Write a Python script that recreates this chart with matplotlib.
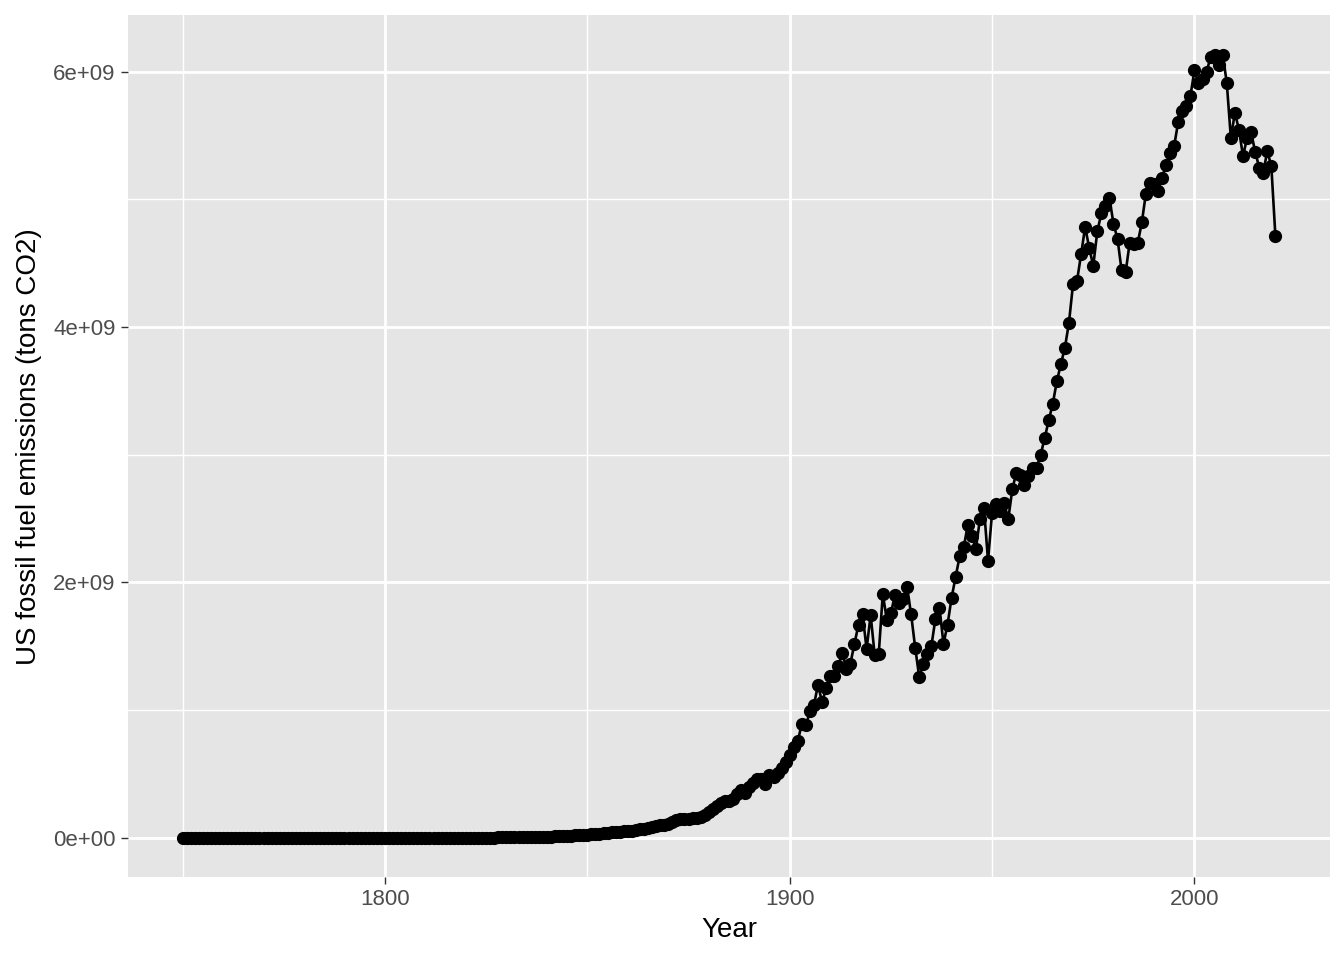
import matplotlib
matplotlib.use("Agg")
import matplotlib.pyplot as plt
import numpy as np

plt.rcParams['font.family'] = ['Liberation Sans', 'DejaVu Sans']

# US fossil CO2 emissions, million tonnes, one list per decade
years = np.arange(1750, 2021)
mt_1750s = [0, 0, 0, 0, 0, 0, 0, 0, 0, 0]
mt_1760s = [0, 0, 0, 0, 0, 0, 0, 0, 0, 0]
mt_1770s = [0, 0, 0, 0, 0, 0, 0, 0, 0, 0]
mt_1780s = [0, 0, 0, 0, 0, 0, 0, 0, 0, 0]
mt_1790s = [0, 0, 0, 0, 0, 0, 0, 0, 0, 0]
mt_1800s = [0.25, 0.27, 0.29, 0.31, 0.33, 0.35, 0.38, 0.4, 0.43, 0.46]
mt_1810s = [0.5, 0.55, 0.6, 0.65, 0.7, 0.75, 0.8, 0.85, 0.9, 0.95]
mt_1820s = [1.0, 1.1, 1.2, 1.4, 1.6, 1.8, 2.0, 2.3, 2.6, 2.9]
mt_1830s = [3.2, 3.6, 4.0, 4.5, 5.0, 5.5, 6.0, 6.8, 7.5, 8.3]
mt_1840s = [9, 10, 11, 12.5, 14, 15.5, 17, 19, 21, 23]
mt_1850s = [25, 27, 30, 33, 36, 39, 42, 45, 48, 51]
mt_1860s = [55, 57, 60, 65, 70, 76, 83, 90, 97, 104]
mt_1870s = [110, 122, 136, 150, 150, 150, 152, 156, 162, 182]
mt_1880s = [205, 228, 252, 272, 285, 292, 305, 345, 375, 350]
mt_1890s = [400, 430, 460, 462, 425, 490, 480, 505, 545, 595]
mt_1900s = [650, 715, 760, 890, 880, 990, 1040, 1200, 1060, 1170]
mt_1910s = [1270, 1265, 1345, 1450, 1320, 1365, 1520, 1670, 1750, 1480]
mt_1920s = [1745, 1430, 1440, 1910, 1705, 1760, 1900, 1840, 1870, 1965]
mt_1930s = [1750, 1490, 1260, 1360, 1440, 1500, 1715, 1800, 1520, 1670]
mt_1940s = [1880, 2045, 2205, 2275, 2450, 2365, 2265, 2495, 2585, 2170]
mt_1950s = [2545, 2615, 2560, 2620, 2495, 2730, 2860, 2840, 2760, 2835]
mt_1960s = [2895, 2900, 3000, 3130, 3270, 3400, 3575, 3710, 3840, 4035]
mt_1970s = [4335, 4365, 4570, 4785, 4620, 4480, 4750, 4890, 4950, 5010]
mt_1980s = [4810, 4690, 4445, 4430, 4660, 4650, 4660, 4820, 5045, 5130]
mt_1990s = [5120, 5065, 5170, 5270, 5360, 5420, 5610, 5690, 5730, 5810]
mt_2000s = [6010, 5910, 5945, 6000, 6115, 6135, 6050, 6135, 5910, 5480]
mt_2010s = [5680, 5545, 5340, 5480, 5525, 5375, 5250, 5210, 5380, 5260]
mt_2020s = [4715]

emissions = np.array(
    mt_1750s + mt_1760s + mt_1770s + mt_1780s + mt_1790s
    + mt_1800s + mt_1810s + mt_1820s + mt_1830s + mt_1840s
    + mt_1850s + mt_1860s + mt_1870s + mt_1880s + mt_1890s
    + mt_1900s + mt_1910s + mt_1920s + mt_1930s + mt_1940s
    + mt_1950s + mt_1960s + mt_1970s + mt_1980s + mt_1990s
    + mt_2000s + mt_2010s + mt_2020s, dtype=float) * 1e6

x_ticks = [1800, 1900, 2000]
x_minor = [1750, 1850, 1950]
y_ticks = [0, 2e9, 4e9, 6e9]
y_tick_labels = ["0e+00", "2e+09", "4e+09", "6e+09"]
y_minor = [1e9, 3e9, 5e9]

fig = plt.figure(figsize=(13.44, 9.6), dpi=100)
ax = fig.add_axes([0.0952, 0.0865, 0.8944, 0.8975])
ax.set_facecolor("#E5E5E5")

for v in x_minor:
    ax.axvline(v, color="white", lw=1.0, zorder=0)
for v in y_minor:
    ax.axhline(v, color="white", lw=1.0, zorder=0)
for v in x_ticks:
    ax.axvline(v, color="white", lw=2.0, zorder=0)
for v in y_ticks:
    ax.axhline(v, color="white", lw=2.0, zorder=0)

ax.plot(years, emissions, color="black", lw=1.9, zorder=2)
ax.plot(years, emissions, "o", color="black", ms=8.5, zorder=3)

span = years.max() - years.min()
ax.set_xlim(years.min() - 0.05 * span, years.max() + 0.05 * span)
ymax = emissions.max()
ax.set_ylim(-0.05 * ymax, 1.05 * ymax)

ax.set_xticks(x_ticks)
ax.set_xticklabels([str(t) for t in x_ticks])
ax.set_yticks(y_ticks)
ax.set_yticklabels(y_tick_labels)
ax.tick_params(axis="both", length=5, width=1, color="#333333",
               labelcolor="#4D4D4D", labelsize=16, pad=4)

for s in ax.spines.values():
    s.set_visible(False)

ax.set_xlabel("Year", fontsize=20, color="black", labelpad=5)
ax.set_ylabel("US fossil fuel emissions (tons CO2)", fontsize=20, color="black", labelpad=8)

fig.savefig("out.png", dpi=100)
